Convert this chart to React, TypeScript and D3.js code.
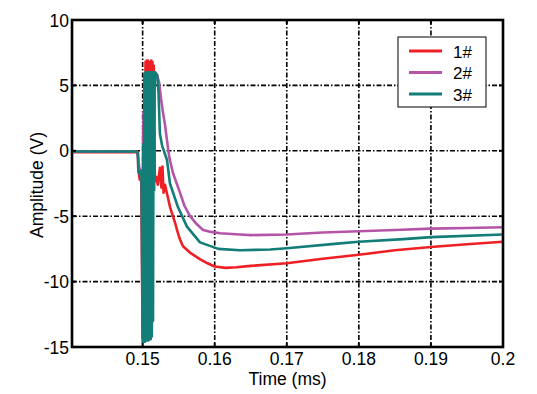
import { scaleLinear, line } from "d3";

// [time (ms), amplitude (V)]
const series1: [number, number][] = [
  [0.14, -0.1], [0.1492, -0.1], [0.14935, -0.1], [0.1494, -1.5], [0.1496, -2.2], [0.1498, -2.0],
  [0.15, -14.3], [0.15008, 2.0], [0.15016, -14.5], [0.15024, 4.5], [0.15032, -14.4], [0.1504, 6.8],
  [0.15048, -13.5], [0.15056, 6.9], [0.15064, -12.0], [0.15072, 6.9], [0.1508, -9.0], [0.15088, 6.8],
  [0.15096, -6.0], [0.15104, 6.8], [0.15112, -3.5], [0.1512, 6.9], [0.15128, -2.2], [0.15136, 6.8],
  [0.15144, -2.5], [0.15155, 6.5], [0.15163, 1.0], [0.1517, -2.3], [0.1519, -2.0], [0.1521, -2.6],
  [0.1524, -1.3], [0.1526, -2.8], [0.15275, -1.2], [0.1529, -3.2], [0.1531, -2.6], [0.1534, -3.3],
  [0.1538, -4.3], [0.1542, -5.0], [0.1545, -5.5], [0.1549, -6.3], [0.1552, -6.8], [0.1556, -7.3],
  [0.1566, -7.8], [0.158, -8.3], [0.159, -8.6], [0.16, -8.85], [0.1615, -8.95], [0.163, -8.9],
  [0.165, -8.8], [0.17, -8.6], [0.175, -8.25], [0.18, -7.95], [0.185, -7.6], [0.19, -7.35],
  [0.195, -7.15], [0.2, -6.95],
];

const series2: [number, number][] = [
  [0.14, -0.05], [0.1492, -0.05], [0.14935, -0.5], [0.1496, -1.5], [0.1499, -1.8], [0.15004, -14.0],
  [0.15012, 3.0], [0.1502, -14.4], [0.15028, 5.8], [0.15036, -14.0], [0.15044, 6.0], [0.15052, -12.5],
  [0.1506, 6.0], [0.15068, -10.0], [0.15076, 6.0], [0.15084, -7.0], [0.15092, 6.0], [0.151, -4.0],
  [0.15108, 6.0], [0.15116, -1.0], [0.15124, 6.0], [0.15132, 1.5], [0.1514, 6.0], [0.15175, 6.0],
  [0.152, 5.8], [0.1523, 5.2], [0.15255, 4.0], [0.1528, 3.0], [0.1531, 2.0], [0.15338, 0.8],
  [0.1537, -0.5], [0.15421, -1.7], [0.15518, -3.2], [0.1558, -4.2], [0.15657, -5.0], [0.1575, -5.6],
  [0.15838, -6.05], [0.1595, -6.2], [0.16074, -6.3], [0.1635, -6.4], [0.165, -6.45], [0.17, -6.4],
  [0.175, -6.25], [0.18, -6.15], [0.185, -6.05], [0.19, -5.95], [0.195, -5.9], [0.2, -5.85],
];

const series3: [number, number][] = [
  [0.14, -0.05], [0.1492, -0.05], [0.14935, -0.3], [0.1494, -1.5], [0.1497, -1.9], [0.14985, -1.5],
  [0.15, -14.6], [0.15008, 0.5], [0.15016, -14.6], [0.15024, 5.9], [0.15032, -14.6], [0.1504, 6.0],
  [0.15048, -14.5], [0.15056, 6.0], [0.15064, -14.5], [0.15072, 6.0], [0.1508, -14.5], [0.15088, 6.0],
  [0.15096, -14.4], [0.15104, 6.0], [0.15112, -14.4], [0.1512, 6.0], [0.15128, -14.2], [0.15136, 6.0],
  [0.15144, -13.0], [0.15152, 6.0], [0.1516, -3.0], [0.15168, 6.0], [0.152, 5.8], [0.1522, 4.5],
  [0.1524, 1.3], [0.1527, 0.4], [0.15338, -0.7], [0.15379, -2.5], [0.1549, -4.3], [0.15615, -5.8],
  [0.15796, -7.0], [0.1605, -7.5], [0.1635, -7.6], [0.1677, -7.55], [0.17, -7.45], [0.177, -7.1],
  [0.18, -6.95], [0.1862, -6.75], [0.19, -6.6], [0.2, -6.4],
];

const seriesNames = ["1#", "2#", "3#"];
const seriesColors = ["#ee2025", "#b555a8", "#137d78"];
const xTicks = [0.15, 0.16, 0.17, 0.18, 0.19, 0.2];
const yTicks = [-15, -10, -5, 0, 5, 10];

const width = 537;
const height = 394;
const left = 72;
const right = 503;
const top = 20;
const bottom = 347;

const font = "'Liberation Sans', Arial, sans-serif";
const fontSize = 17.5;
const dash = "5,2,1.5,2";

const App = () => {
  const xScale = scaleLinear().domain([0.1402, 0.2]).range([left, right]);
  const yScale = scaleLinear().domain([-15, 10]).range([bottom, top]);
  const path = line<[number, number]>()
    .x((d) => xScale(d[0]))
    .y((d) => yScale(d[1]));

  const allSeries = [series1, series2, series3];

  return (
    <svg
      width={width}
      height={height}
      style={{ position: "absolute", left: 0, top: 0, background: "#fff" }}
      fontFamily={font}
    >
      <rect x={0} y={0} width={width} height={height} fill="#fff" />
      <defs>
        <clipPath id="plot">
          <rect x={left} y={top} width={right - left} height={bottom - top} />
        </clipPath>
      </defs>

      {/* grid */}
      {xTicks.slice(0, -1).map((t) => (
        <line
          key={"gx" + t}
          x1={xScale(t)}
          x2={xScale(t)}
          y1={top}
          y2={bottom}
          stroke="#000"
          strokeWidth={1.6}
          strokeDasharray={dash}
        />
      ))}
      {yTicks.slice(1, -1).map((t) => (
        <line
          key={"gy" + t}
          x1={left}
          x2={right}
          y1={yScale(t)}
          y2={yScale(t)}
          stroke="#000"
          strokeWidth={1.6}
          strokeDasharray={dash}
        />
      ))}

      {/* traces, red first and teal on top */}
      <g clipPath="url(#plot)">
        {allSeries.map((s, i) => (
          <path
            key={seriesNames[i]}
            d={path(s) || ""}
            fill="none"
            stroke={seriesColors[i]}
            strokeWidth={2.6}
            strokeLinejoin="round"
          />
        ))}
      </g>

      {/* ticks */}
      {xTicks.map((t) => (
        <g key={"tx" + t}>
          <line x1={xScale(t)} x2={xScale(t)} y1={bottom} y2={bottom - 4} stroke="#000" strokeWidth={2} />
          <line x1={xScale(t)} x2={xScale(t)} y1={top} y2={top + 4} stroke="#000" strokeWidth={2} />
          <text x={xScale(t)} y={365} textAnchor="middle" fontSize={fontSize}>
            {t}
          </text>
        </g>
      ))}
      {yTicks.map((t) => (
        <g key={"ty" + t}>
          <line x1={left} x2={left + 4} y1={yScale(t)} y2={yScale(t)} stroke="#000" strokeWidth={2} />
          <line x1={right} x2={right - 4} y1={yScale(t)} y2={yScale(t)} stroke="#000" strokeWidth={2} />
          <text x={69} y={yScale(t) + 6.5} textAnchor="end" fontSize={fontSize}>
            {t}
          </text>
        </g>
      ))}

      {/* frame */}
      <rect
        x={left}
        y={top}
        width={right - left}
        height={bottom - top}
        fill="none"
        stroke="#000"
        strokeWidth={2.6}
      />

      {/* axis labels */}
      <text x={(left + right) / 2} y={385} textAnchor="middle" fontSize={fontSize}>
        Time (ms)
      </text>
      <text transform="translate(42.5,185) rotate(-90)" textAnchor="middle" fontSize={fontSize}>
        Amplitude (V)
      </text>

      {/* legend */}
      <g>
        <rect x={398} y={37} width={88} height={70} fill="#fff" stroke="#000" strokeWidth={1} />
        {seriesNames.map((name, i) => (
          <g key={"lg" + name}>
            <line
              x1={409}
              x2={442}
              y1={51 + i * 21.5}
              y2={51 + i * 21.5}
              stroke={seriesColors[i]}
              strokeWidth={3}
            />
            <text x={453} y={57.5 + i * 21.5} fontSize={17}>
              {name}
            </text>
          </g>
        ))}
      </g>
    </svg>
  );
};

export default App;
